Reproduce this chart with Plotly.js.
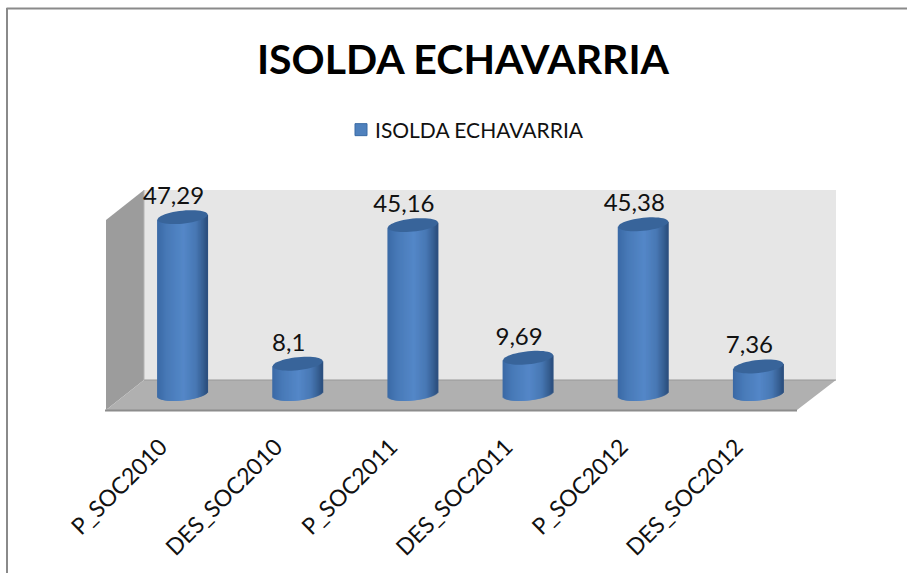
<!DOCTYPE html>
<html><head><meta charset="utf-8">
<script src="https://cdn.plot.ly/plotly-3.0.1.min.js"></script>
<style>html,body{margin:0;padding:0;background:#fff;overflow:hidden}#c{width:907px;height:573px}</style>
</head><body><div id="c"></div>
<script>
const chartTitle = "ISOLDA ECHAVARRIA";
const seriesName = "ISOLDA ECHAVARRIA";
const categories = ["P_SOC2010","DES_SOC2010","P_SOC2011","DES_SOC2011","P_SOC2012","DES_SOC2012"];
const values = [47.29, 8.1, 45.16, 9.69, 45.38, 7.36];
const fontFamily = "Lato, Carlito, Calibri, sans-serif";

const W = 907, H = 573;
const px = v => v / W, py = v => 1 - v / H;

// front-plane axis frame, in pixels
const axL = 106, axR = 797, axB = 410, axT = 160, basePx = 394, pxPerUnit = 3.74;
const unitX = (axR - axL) / 6;
const depthX = 19 / unitX;           // bars stand mid-way into the floor depth
const labelX = 10 / unitX;           // value labels sit a little left of the bar centre
const labelLift = 1.9;               // value labels float above the cap
const capA = 25 / unitX;             // cylinder half width
const capB = 6.5 / pxPerUnit;        // cap half height
const capTilt = 2.5 / pxPerUnit;     // rise of the cap towards the right
const idx = categories.map((_, i) => i);
const barX = idx.map(i => i + depthX);

function shade(u) {
  const stops = [[-1,[58,105,165]],[-0.6,[72,122,184]],[0.05,[84,135,200]],[0.55,[72,120,180]],[0.85,[54,94,145]],[1,[42,78,125]]];
  for (let k = 1; k < stops.length; k++) {
    if (u <= stops[k][0]) {
      const t = (u - stops[k-1][0]) / (stops[k][0] - stops[k-1][0]);
      const c = stops[k-1][1].map((a, j) => Math.round(a + (stops[k][1][j] - a) * t));
      return `rgb(${c.join(",")})`;
    }
  }
  return "rgb(42,78,125)";
}

// side shading of the cylinders: narrow slices following the rim curve
const N = 50, sx = [], sy = [], sb = [], sc = [];
values.forEach((v, i) => {
  for (let k = 0; k < N; k++) {
    const u = -1 + (2 * k + 1) / N;
    const half = capB * Math.sqrt(1 - u * u);
    const low = capTilt * u - half;
    sx.push(barX[i] + u * capA);
    sb.push(low);
    sy.push(v + capTilt * u - low);
    sc.push(shade(u));
  }
});

const capShapes = values.map((v, i) => {
  const pts = [];
  for (let k = 0; k < 48; k++) {
    const a = 2 * Math.PI * k / 48;
    pts.push(`${(barX[i] + capA * Math.cos(a)).toFixed(4)},${(v + capTilt * Math.cos(a) + capB * Math.sin(a)).toFixed(4)}`);
  }
  return {type:"path", xref:"x", yref:"y", layer:"above", path:"M" + pts.join("L") + "Z",
          fillcolor:"#38649a", line:{width:0}};
});

const poly = (pts, fill, line) => ({type:"path", xref:"paper", yref:"paper", layer:"below",
  path:"M" + pts.map(p => `${px(p[0])},${py(p[1])}`).join("L") + "Z", fillcolor:fill, line:line || {width:0}});
const seg = (x0,y0,x1,y1,color,width) => ({type:"line", xref:"paper", yref:"paper", layer:"below",
  x0:px(x0), y0:py(y0), x1:px(x1), y1:py(y1), line:{color, width}});

const frame = [
  poly([[144,190],[836,190],[836,380],[144,380]], "#e6e6e6"),
  poly([[106,220],[144,190],[144,380],[106,410]], "#9c9c9c"),
  poly([[106,410],[144,380],[836,380],[797,410]], "#b0b0b0"),
  seg(144,380,836,380,"#989898",1.2),
  seg(105,410.5,797,410.5,"#8c8c8c",2),
  seg(144,190,144,380,"#b4b4b4",1),
  seg(6.5,8.5,907,8.5,"#8a8a8a",2),
  seg(7,8,7,573,"#8a8a8a",2)
];

const traces = [
  {type:"bar", name:seriesName, x:barX, y:values, base:0, width:2*capA*0.85,
   marker:{color:"#4f81bd", line:{color:"#3a6ba5", width:1}}, hoverinfo:"x+y"},
  {type:"bar", x:sx, y:sy, base:sb, width:2/unitX, showlegend:false, hoverinfo:"skip",
   marker:{color:sc, line:{width:0}}},
  {type:"scatter", mode:"text", x:idx.map(i=>i+labelX), y:values.map(v=>v+labelLift),
   text:values.map(v => String(v).replace(".", ",")), textposition:"top center",
   textfont:{family:fontFamily, size:24, color:"#111"}, showlegend:false, hoverinfo:"skip", cliponaxis:false}
];

const layout = {
  width:W, height:H, margin:{l:0,r:0,t:0,b:0}, paper_bgcolor:"#fff", plot_bgcolor:"rgba(0,0,0,0)",
  barmode:"overlay", showlegend:true,
  font:{family:fontFamily, color:"#111"},
  title:{text:chartTitle, font:{family:fontFamily, size:41, weight:700, color:"#000"},
         x:px(463), xref:"paper", xanchor:"center", y:py(60), yref:"paper", yanchor:"middle"},
  legend:{x:px(335), y:py(130), xanchor:"left", yanchor:"middle", orientation:"h",
          bgcolor:"rgba(0,0,0,0)", font:{family:fontFamily, size:21, color:"#111"}},
  xaxis:{domain:[px(axL), px(axR)], range:[-0.5,5.5], tickmode:"array", tickvals:idx, ticktext:categories,
         tickangle:-45, ticks:"", showgrid:false, zeroline:false, showline:false,
         ticklabelstandoff:18, ticklabelshift:-3,
         tickfont:{family:fontFamily, size:23, color:"#111"}, automargin:false},
  yaxis:{domain:[py(axB), py(axT)], range:[-(axB-basePx)/pxPerUnit, (basePx-axT)/pxPerUnit],
         visible:false, showgrid:false, zeroline:false, automargin:false},
  shapes: frame.concat(capShapes)
};
Plotly.newPlot("c", traces, layout, {displayModeBar:false, responsive:false}).then(() => {
  const sym = document.querySelector("#c .legendsymbols");
  if (sym) sym.setAttribute("transform", "translate(6,0)");
});
</script></body></html>
